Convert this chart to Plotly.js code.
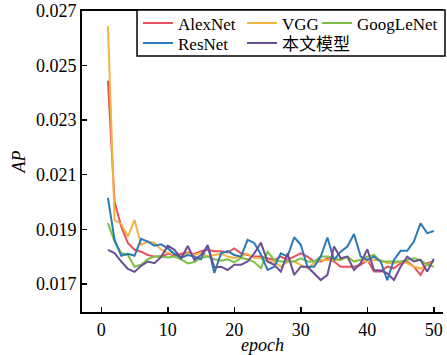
<!DOCTYPE html>
<html>
<head>
<meta charset="utf-8">
<script src="https://cdn.plot.ly/plotly-3.0.1.min.js"></script>
<style>
  html, body { margin: 0; padding: 0; background: #ffffff; }
  #chart { width: 447px; height: 355px; }
</style>
</head>
<body>
<div id="chart"></div>
<script>
// Epoch axis
const epochs = Array.from({length: 50}, (_, i) => i + 1);

// AP per epoch for each model
const alexNet = [
  0.02445, 0.0200, 0.0191, 0.0185, 0.01825, 0.01818, 0.01806, 0.0180, 0.0180, 0.0181,
  0.01805, 0.0181, 0.01815, 0.0181, 0.0182, 0.01825, 0.0182, 0.0182, 0.01815, 0.0183,
  0.01812, 0.01806, 0.0180, 0.0180, 0.01794, 0.01788, 0.0180, 0.01788, 0.0180, 0.01812,
  0.0180, 0.01782, 0.01782, 0.01794, 0.01782, 0.01763, 0.01763, 0.01763, 0.0177, 0.01788,
  0.01745, 0.01745, 0.01763, 0.01757, 0.01776, 0.01782, 0.01763, 0.01733, 0.01776, 0.01782
];
const vgg = [
  0.02645, 0.01934, 0.0192, 0.01873, 0.01934, 0.01843, 0.01855, 0.0185, 0.01825, 0.01813,
  0.0181, 0.0180, 0.01812, 0.01806, 0.01815, 0.0180, 0.01806, 0.0181, 0.0180, 0.01795,
  0.0180, 0.0181, 0.01795, 0.01794, 0.01782, 0.01782, 0.01763, 0.01782, 0.01782, 0.0177,
  0.01757, 0.01776, 0.01788, 0.01788, 0.01788, 0.01788, 0.0180, 0.01782, 0.01788, 0.01782,
  0.01788, 0.01788, 0.01776, 0.01776, 0.01782, 0.01776, 0.01763, 0.01757, 0.0177, 0.01782
];
const googLeNet = [
  0.01923, 0.01855, 0.01813, 0.01806, 0.01763, 0.0177, 0.01791, 0.0180, 0.0180, 0.01797,
  0.0180, 0.0179, 0.01775, 0.0178, 0.01795, 0.0180, 0.0179, 0.01785, 0.0179, 0.0178,
  0.01795, 0.0179, 0.0178, 0.01757, 0.01818, 0.01788, 0.01782, 0.01782, 0.01782, 0.01794,
  0.01782, 0.01782, 0.0180, 0.0180, 0.01794, 0.01788, 0.0180, 0.01782, 0.01788, 0.0180,
  0.01806, 0.01782, 0.01782, 0.01782, 0.01782, 0.01788, 0.01794, 0.01788, 0.0177, 0.01763
];
const resNet = [
  0.02015, 0.01861, 0.01803, 0.0181, 0.01803, 0.01865, 0.01855, 0.0184, 0.01845, 0.0183,
  0.0181, 0.01795, 0.01806, 0.0180, 0.0179, 0.01843, 0.0174, 0.01812, 0.0182, 0.01806,
  0.0180, 0.01861, 0.0185, 0.01808, 0.01751, 0.01763, 0.01812, 0.0180, 0.01871, 0.01843,
  0.01763, 0.01763, 0.0180, 0.0187, 0.01788, 0.01818, 0.01837, 0.01883, 0.0180, 0.01788,
  0.0180, 0.01782, 0.01714, 0.01788, 0.01821, 0.01821, 0.01855, 0.01922, 0.01886, 0.01894
];
const ourModel = [
  0.01825, 0.01813, 0.01782, 0.01755, 0.01744, 0.01766, 0.01782, 0.01776, 0.01799, 0.0184,
  0.01825, 0.01794, 0.01839, 0.01788, 0.01806, 0.01839, 0.0176, 0.01763, 0.01751, 0.0177,
  0.0177, 0.01782, 0.01812, 0.01851, 0.01782, 0.0177, 0.01745, 0.01812, 0.01733, 0.01763,
  0.01763, 0.01739, 0.01714, 0.01733, 0.01837, 0.01794, 0.0180, 0.01751, 0.01776, 0.01827,
  0.01751, 0.01749, 0.01739, 0.01714, 0.01763, 0.0180, 0.01782, 0.01788, 0.01745, 0.01792
];

// Tick positions
const xTicks = [0, 10, 20, 30, 40, 50];
const yTicks = [0.017, 0.019, 0.021, 0.023, 0.025, 0.027];

const serif = "'Liberation Serif', 'Times New Roman', 'Noto Sans CJK SC', serif";

// Each entry sits in its own legend so the entries form a two-row grid
const series = [
  {name: 'AlexNet',   y: alexNet,   color: '#e9505d', legend: 'legend'},
  {name: 'VGG',       y: vgg,       color: '#f2b543', legend: 'legend2'},
  {name: 'GoogLeNet', y: googLeNet, color: '#7cc143', legend: 'legend3'},
  {name: 'ResNet',    y: resNet,    color: '#2a7ab8', legend: 'legend4'},
  {name: '本文模型',   y: ourModel,  color: '#6a4e98', legend: 'legend5'}
];

const traces = series.map(s => ({
  type: 'scatter',
  mode: 'lines',
  x: epochs,
  y: s.y,
  name: s.name,
  legend: s.legend,
  line: {color: s.color, width: 2}
}));

function legendAt(x, y) {
  return {
    x: x, y: y, xanchor: 'left', yanchor: 'middle',
    bgcolor: 'rgba(0,0,0,0)', borderwidth: 0,
    font: {family: serif, size: 17, color: '#000'},
    orientation: 'v', itemwidth: 30
  };
}

const layout = {
  width: 447,
  height: 355,
  margin: {l: 82, r: 4, t: 11, b: 43},
  paper_bgcolor: '#ffffff',
  plot_bgcolor: '#ffffff',
  showlegend: true,
  font: {family: serif, size: 18, color: '#000'},
  xaxis: {
    range: [-2.9, 51.38],
    automargin: false,
    tickvals: xTicks,
    ticks: 'inside', ticklen: 5, tickwidth: 1.5, tickcolor: '#000',
    showline: true, linewidth: 2, linecolor: '#000', mirror: true,
    showgrid: false, zeroline: false,
    tickfont: {family: serif, size: 18, color: '#000'},
    title: {text: 'epoch', font: {family: serif, size: 18, style: 'italic', color: '#000'}, standoff: 2}
  },
  yaxis: {
    range: [0.01597, 0.0270],
    automargin: false,
    tickvals: yTicks,
    tickformat: '.3f',
    ticks: 'inside', ticklen: 5, tickwidth: 1.5, tickcolor: '#000',
    showline: true, linewidth: 2, linecolor: '#000',
    showgrid: false, zeroline: false,
    tickfont: {family: serif, size: 18, color: '#000'},
    title: {text: 'AP', font: {family: serif, size: 18, style: 'italic', color: '#000'}, standoff: 6}
  },
  legend:  legendAt(0.1551, 0.9585),
  legend2: legendAt(0.4432, 0.9585),
  legend3: legendAt(0.6510, 0.9585),
  legend4: legendAt(0.1551, 0.8920),
  legend5: legendAt(0.4432, 0.8920),
  shapes: [{
    type: 'rect', xref: 'paper', yref: 'paper',
    x0: 0.1524, x1: 1.0055, y0: 0.8505, y1: 1.0033,
    line: {color: '#000', width: 1.5},
    fillcolor: '#ffffff', layer: 'above'
  }]
};

Plotly.newPlot('chart', traces, layout, {displayModeBar: false, staticPlot: true});
</script>
</body>
</html>
